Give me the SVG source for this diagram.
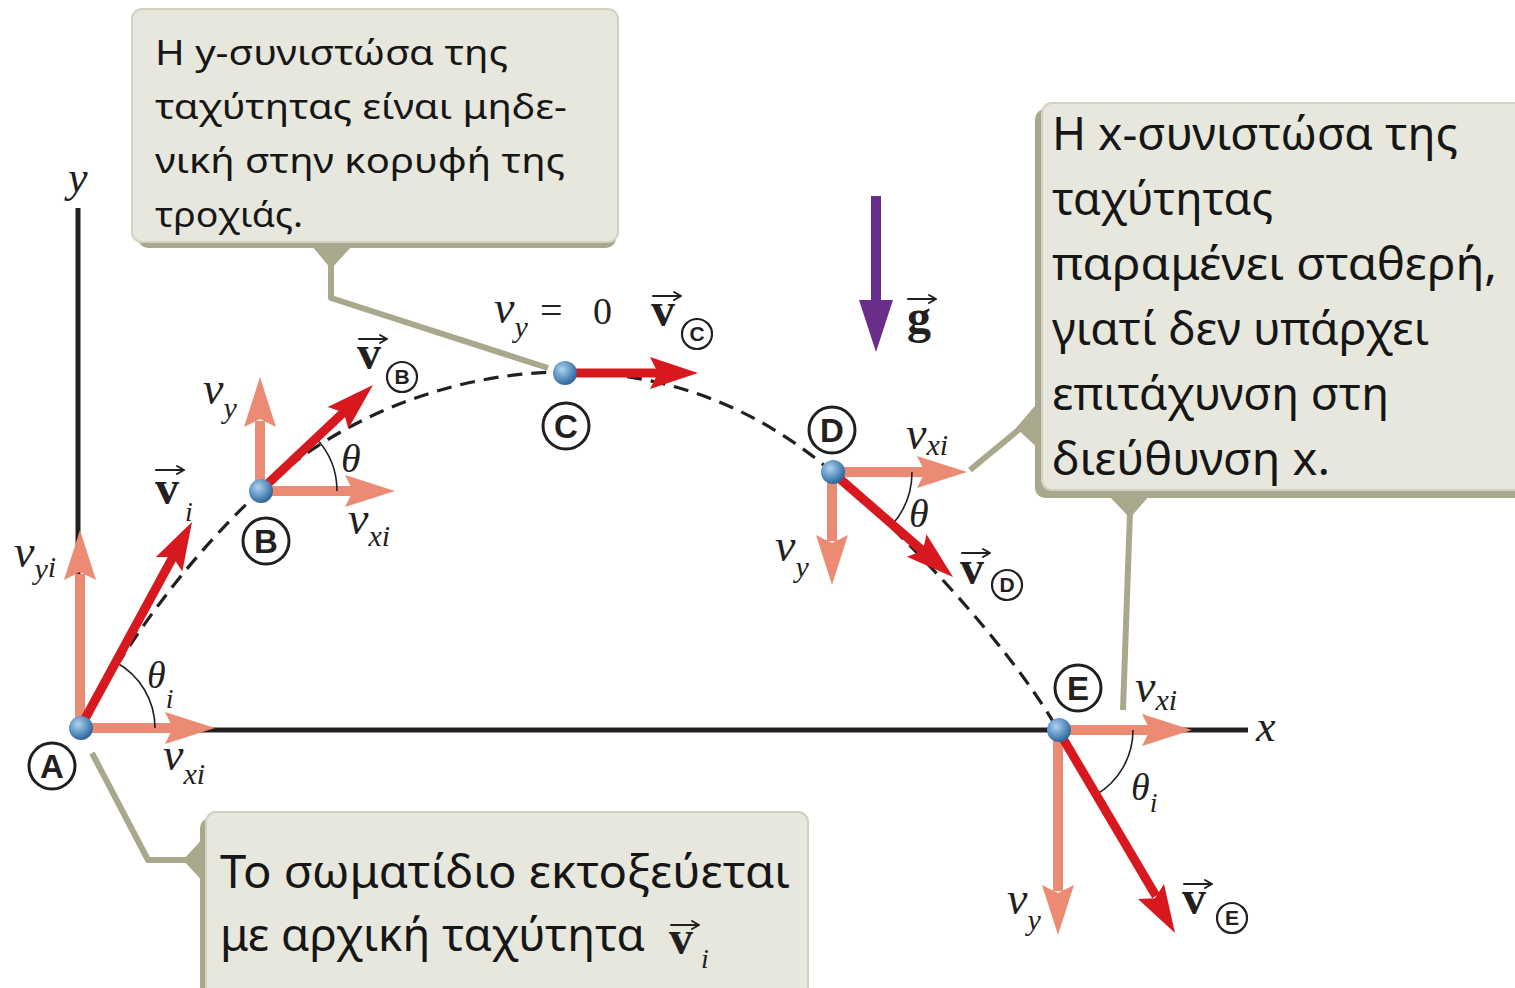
<svg xmlns="http://www.w3.org/2000/svg" xmlns:xlink="http://www.w3.org/1999/xlink" width="1515" height="988" viewBox="0 0 1515 988">
<defs>
<style>
.callout{fill:#E7E7DE;stroke:#D2D1C0;stroke-width:2}
.shadow{fill:#A9A88C}
.leader{stroke:#A9A88C;stroke-width:6;fill:none;stroke-linejoin:round}
.tail{fill:#A9A88C}
.ct{font-family:"Noto Sans","DejaVu Sans",sans-serif;fill:#161616}
.m{font-family:"Liberation Serif","Times New Roman",serif;font-style:italic;fill:#231F20}
.vb{font-family:"Liberation Serif","Times New Roman",serif;font-weight:bold;fill:#231F20}
.axis{stroke:#231F20;stroke-width:5;fill:none}
.traj{fill:none;stroke:#231F20;stroke-width:3.2;stroke-dasharray:15 9}
.comp{stroke:#EC8B73;stroke-width:10;fill:none}
.ch{fill:#EC8B73}
.vel{stroke:#D7181F;stroke-width:9;fill:none}
.vh{fill:#D7181F}
.arc{fill:none;stroke:#231F20;stroke-width:1.6}
.cl circle{fill:none;stroke:#231F20;stroke-width:3}
.cl text{font-family:"Liberation Sans",Arial,sans-serif;font-weight:bold;fill:#231F20;text-anchor:middle}
.cs circle{fill:none;stroke:#231F20;stroke-width:2.2}
.cs text{font-family:"Liberation Sans",Arial,sans-serif;font-weight:bold;fill:#231F20;text-anchor:middle;font-size:21px}
.va{stroke:#231F20;stroke-width:2;fill:none;stroke-linecap:round}
</style>
<radialGradient id="ball" cx="38%" cy="35%" r="65%">
<stop offset="0" stop-color="#B3D3EE"/>
<stop offset="0.5" stop-color="#6A9ECB"/>
<stop offset="1" stop-color="#2F6799"/>
</radialGradient>
<g id="vec"><path class="va" d="M0,0 H28 M28,0 L21,-4 M28,0 L21,4"/></g>
</defs>
<rect width="1515" height="988" fill="#FFFFFF"/>

<g id="axes">
<line class="axis" x1="78" y1="208" x2="78" y2="731"/>
<line class="axis" x1="76" y1="730" x2="1248" y2="730"/>
<text class="m" x="68" y="192" font-size="44">y</text>
<text class="m" x="1256" y="741" font-size="44">x</text>
</g>

<g id="trajectory">
<path class="traj" d="M80,728 C127.8,640.2 187.1,559.4 260,491 C340.2,415.7 455,372 565,372 C665,372 756.5,406.5 832,472 C907.5,537.5 1008.1,643.4 1058,730"/>
</g>

<g id="connectors">
<path class="tail" d="M312,246 L352,246 L331,269 Z"/>
<polyline class="leader" points="331,262 331,298 548,368"/>
<path class="tail" d="M1040,400 L1040,450 L1016,428 Z"/>
<line class="leader" x1="970" y1="470" x2="1022" y2="427"/>
<path class="tail" d="M1108,495 L1150,495 L1130,518 Z"/>
<polyline class="leader" points="1130,512 1123,710"/>
<path class="tail" d="M205,836 L205,884 L183,860 Z"/>
<polyline class="leader" points="92,753 148,860 190,860"/>
<line x1="876" y1="196" x2="876" y2="306" stroke="#6B2D8C" stroke-width="10"/>
<path d="M876,352 L859,300 L893,300 Z" fill="#6B2D8C"/>
</g>

<g id="node-A">
<line class="comp" x1="80" y1="728" x2="80" y2="574"/>
<path class="ch" d="M80,530 L96,580 L80,572 L64,580 Z"/>
<line class="comp" x1="80" y1="728" x2="175" y2="728"/>
<path class="ch" d="M215,728 L165,712 L173,728 L165,744 Z"/>
<path class="arc" d="M155,728 A75,75 0 0 0 115.9,662.2"/>
<line class="vel" x1="80" y1="728" x2="174" y2="555"/>
<path class="vh" d="M192,522 L182.3,571.4 L172.9,557.1 L155.9,557 Z"/>
<circle cx="81" cy="728" r="12" fill="url(#ball)"/>
<g class="cl"><circle cx="52" cy="766" r="23"/><text x="52" y="778" font-size="33">A</text></g>
<text class="m" x="14" y="567" font-size="46">v<tspan font-size="30" dy="12">y</tspan><tspan font-size="30" dy="-2">i</tspan></text>
<text class="m" x="147" y="688" font-size="38">θ<tspan font-size="28" dy="20">i</tspan></text>
<text class="m" x="163" y="770" font-size="46">v<tspan font-size="30" dy="14">xi</tspan></text>
<use xlink:href="#vec" href="#vec" x="156" y="470"/>
<text class="vb" x="155" y="504" font-size="48">v</text>
<text class="m" x="185" y="521" font-size="28">i</text>
</g>

<g id="node-B">
<line class="comp" x1="260" y1="491" x2="260" y2="421"/>
<path class="ch" d="M260,377 L276,427 L260,419 L244,427 Z"/>
<line class="comp" x1="260" y1="491" x2="355" y2="491"/>
<path class="ch" d="M395,491 L345,475 L353,491 L345,507 Z"/>
<path class="arc" d="M337,491 A77,77 0 0 0 316.1,438.3"/>
<line class="vel" x1="260" y1="491" x2="345" y2="411"/>
<path class="vh" d="M373,385 L348.3,428.7 L343.8,412.4 L327.7,406.9 Z"/>
<circle cx="261" cy="491" r="12" fill="url(#ball)"/>
<g class="cl"><circle cx="266" cy="541" r="23"/><text x="266" y="553" font-size="33">B</text></g>
<text class="m" x="203" y="404" font-size="46">v<tspan font-size="30" dy="14">y</tspan></text>
<text class="m" x="341" y="472" font-size="40">θ</text>
<text class="m" x="348" y="534" font-size="46">v<tspan font-size="30" dy="12">xi</tspan></text>
<use xlink:href="#vec" href="#vec" x="359" y="339"/>
<text class="vb" x="357" y="369" font-size="48">v</text>
<g class="cs"><circle cx="402" cy="377" r="15"/><text x="402" y="384">B</text></g>
</g>

<g id="node-C">
<line class="vel" x1="565" y1="373" x2="660" y2="373"/>
<path class="vh" d="M698,373 L650,357 L658,373 L650,389 Z"/>
<circle cx="565" cy="373" r="12" fill="url(#ball)"/>
<g class="cl"><circle cx="566" cy="426" r="23"/><text x="566" y="438" font-size="33">C</text></g>
<text class="m" x="494" y="323" font-size="46">v<tspan font-size="30" dy="14">y</tspan></text>
<text x="540" y="324" font-size="40" font-family="Liberation Serif,serif" fill="#231F20">=</text>
<text x="593" y="324" font-size="38" font-family="Liberation Serif,serif" fill="#231F20">0</text>
<use xlink:href="#vec" href="#vec" x="653" y="296"/>
<text class="vb" x="651" y="326" font-size="48">v</text>
<g class="cs"><circle cx="697" cy="334" r="15"/><text x="697" y="341">C</text></g>
</g>

<g id="gravity">
<use xlink:href="#vec" href="#vec" x="908" y="299"/>
<text class="vb" x="907" y="333" font-size="48">g</text>
</g>

<g id="node-D">
<line class="comp" x1="832" y1="472" x2="927" y2="472"/>
<path class="ch" d="M967,472 L917,456 L925,472 L917,488 Z"/>
<line class="comp" x1="832" y1="472" x2="832" y2="541"/>
<path class="ch" d="M832,585 L816,535 L832,543 L848,535 Z"/>
<path class="arc" d="M912,472 A80,80 0 0 1 892.4,524.5"/>
<line class="vel" x1="832" y1="472" x2="924" y2="552"/>
<path class="vh" d="M953,577 L906.9,556.8 L922.8,550.8 L926.5,534.2 Z"/>
<circle cx="833" cy="472" r="12" fill="url(#ball)"/>
<g class="cl"><circle cx="832" cy="430" r="23"/><text x="832" y="442" font-size="33">D</text></g>
<text class="m" x="906" y="449" font-size="46">v<tspan font-size="30" dy="6">xi</tspan></text>
<text class="m" x="909" y="527" font-size="40">θ</text>
<text class="m" x="775" y="561" font-size="46">v<tspan font-size="30" dy="16">y</tspan></text>
<use xlink:href="#vec" href="#vec" x="962" y="553"/>
<text class="vb" x="960" y="584" font-size="48">v</text>
<g class="cs"><circle cx="1007" cy="585" r="15"/><text x="1007" y="592">D</text></g>
</g>

<g id="node-E">
<line class="comp" x1="1058" y1="730" x2="1152" y2="730"/>
<path class="ch" d="M1192,730 L1142,714 L1150,730 L1142,746 Z"/>
<line class="comp" x1="1058" y1="730" x2="1058" y2="891"/>
<path class="ch" d="M1058,935 L1042,885 L1058,893 L1074,885 Z"/>
<path class="arc" d="M1133,730 A75,75 0 0 1 1095.5,795"/>
<line class="vel" x1="1058" y1="730" x2="1156" y2="896"/>
<path class="vh" d="M1175,933 L1138,898.9 L1155,898.3 L1164,883.9 Z"/>
<circle cx="1059" cy="730" r="12" fill="url(#ball)"/>
<g class="cl"><circle cx="1078" cy="688" r="23"/><text x="1078" y="700" font-size="33">E</text></g>
<text class="m" x="1135" y="702" font-size="46">v<tspan font-size="30" dy="8">xi</tspan></text>
<text class="m" x="1131" y="800" font-size="38">θ<tspan font-size="28" dy="12">i</tspan></text>
<text class="m" x="1007" y="914" font-size="46">v<tspan font-size="30" dy="16">y</tspan></text>
<use xlink:href="#vec" href="#vec" x="1184" y="884"/>
<text class="vb" x="1182" y="914" font-size="48">v</text>
<g class="cs"><circle cx="1232" cy="918" r="15"/><text x="1232" y="925">E</text></g>
</g>

<g id="callout-top">
<rect class="shadow" x="138" y="15" width="478" height="233" rx="10"/>
<rect class="callout" x="132" y="9" width="486" height="233" rx="10"/>
<text class="ct" font-size="35">
<tspan x="155" y="65" textLength="353" lengthAdjust="spacingAndGlyphs">Η y-συνιστώσα της</tspan>
<tspan x="155" y="119" textLength="412" lengthAdjust="spacingAndGlyphs">ταχύτητας είναι μηδε-</tspan>
<tspan x="155" y="173" textLength="410" lengthAdjust="spacingAndGlyphs">νική στην κορυφή της</tspan>
<tspan x="155" y="227" textLength="148" lengthAdjust="spacingAndGlyphs">τροχιάς.</tspan>
</text>
</g>

<g id="callout-right">
<rect class="shadow" x="1035" y="109" width="500" height="389" rx="10"/>
<rect class="callout" x="1042" y="103" width="490" height="387" rx="10"/>
<text class="ct" font-size="45">
<tspan x="1052" y="150" textLength="406" lengthAdjust="spacingAndGlyphs">Η x-συνιστώσα της</tspan>
<tspan x="1052" y="215" textLength="221" lengthAdjust="spacingAndGlyphs">ταχύτητας</tspan>
<tspan x="1052" y="280" textLength="445" lengthAdjust="spacingAndGlyphs">παραμένει σταθερή,</tspan>
<tspan x="1052" y="345" textLength="377" lengthAdjust="spacingAndGlyphs">γιατί δεν υπάρχει</tspan>
<tspan x="1052" y="410" textLength="337" lengthAdjust="spacingAndGlyphs">επιτάχυνση στη</tspan>
<tspan x="1052" y="475" textLength="278" lengthAdjust="spacingAndGlyphs">διεύθυνση x.</tspan>
</text>
</g>

<g id="callout-bottom">
<rect class="shadow" x="200" y="818" width="606" height="200" rx="10"/>
<rect class="callout" x="206" y="812" width="602" height="200" rx="10"/>
<text class="ct" font-size="46">
<tspan x="220" y="888" textLength="570" lengthAdjust="spacingAndGlyphs">Το σωματίδιο εκτοξεύεται</tspan>
<tspan x="220" y="951" textLength="425" lengthAdjust="spacingAndGlyphs">με αρχική ταχύτητα</tspan>
</text>
<use xlink:href="#vec" href="#vec" x="671" y="925"/>
<text class="vb" x="669" y="954" font-size="48">v</text>
<text class="m" x="701" y="968" font-size="28">i</text>
</g>
</svg>
